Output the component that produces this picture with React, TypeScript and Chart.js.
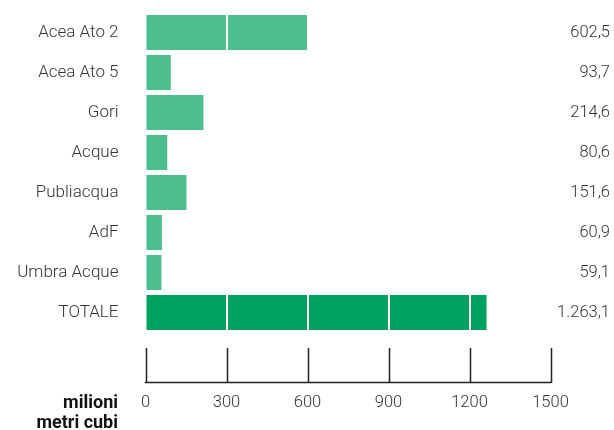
import React, { useEffect, useRef } from "react";
import { Chart, registerables } from "chart.js";

Chart.register(...registerables);

const categories = ["Acea Ato 2", "Acea Ato 5", "Gori", "Acque", "Publiacqua", "AdF", "Umbra Acque", "TOTALE"];
const values = [602.5, 93.7, 214.6, 80.6, 151.6, 60.9, 59.1, 1263.1];
const barColors = ["#4dbe8e", "#4dbe8e", "#4dbe8e", "#4dbe8e", "#4dbe8e", "#4dbe8e", "#4dbe8e", "#00a060"];
const xTicks = [0, 300, 600, 900, 1200, 1500];
const unitLines = ["milioni", "metri cubi"];

const FONT = "Roboto, 'Liberation Sans', sans-serif";

function fmt(n: number): string {
  const [i, d] = n.toFixed(1).split(".");
  const withSep = i.replace(/\B(?=(\d{3})+(?!\d))/g, ".");
  return withSep + "," + d;
}

const overlay = {
  id: "overlay",
  afterDraw(chart: any) {
    const ctx = chart.ctx;
    const x = chart.scales.x;
    const meta = chart.getDatasetMeta(0);
    ctx.save();
    ctx.font = `300 16.5px ${FONT}`;
    ctx.fillStyle = "#333";
    ctx.textAlign = "right";
    ctx.textBaseline = "middle";
    meta.data.forEach((el: any, i: number) => {
      ctx.fillText(fmt(values[i]), 610, el.y);
    });
    ctx.strokeStyle = "#222";
    ctx.lineWidth = 1.5;
    ctx.beginPath();
    const left = x.getPixelForValue(xTicks[0]);
    const right = x.getPixelForValue(xTicks[xTicks.length - 1]);
    ctx.moveTo(left - 0.75, 382.5);
    ctx.lineTo(right + 0.75, 382.5);
    xTicks.forEach((t) => {
      const px = Math.round(x.getPixelForValue(t)) + 0.5;
      ctx.moveTo(px, 348);
      ctx.lineTo(px, 383);
    });
    ctx.stroke();
    ctx.font = `300 16.5px ${FONT}`;
    ctx.fillStyle = "#333";
    ctx.textAlign = "center";
    xTicks.forEach((t) => {
      ctx.fillText(String(t), x.getPixelForValue(t), 403);
    });
    ctx.font = `bold 18px ${FONT}`;
    ctx.fillStyle = "#111";
    ctx.textAlign = "right";
    unitLines.forEach((s, i) => {
      ctx.fillText(s, 118, 403 + i * 20);
    });
    ctx.restore();
  },
};

export default function App() {
  const ref = useRef<HTMLCanvasElement | null>(null);
  useEffect(() => {
    document.body.style.margin = "0";
    const chart = new Chart(ref.current!, {
      type: "bar",
      data: {
        labels: categories,
        datasets: [
          {
            data: values,
            backgroundColor: barColors,
            borderWidth: 0,
            barPercentage: 0.875,
            categoryPercentage: 1,
          },
        ],
      },
      options: {
        indexAxis: "y",
        animation: false,
        responsive: false,
        devicePixelRatio: 1,
        layout: { padding: { top: 12.5, right: 63.5, left: 0, bottom: 97.5 } },
        plugins: { legend: { display: false }, tooltip: { enabled: false } },
        scales: {
          x: {
            min: 0,
            max: 1500,
            ticks: { display: false, stepSize: 300 },
            border: { display: false },
            grid: {
              z: 1,
              drawTicks: false,
              lineWidth: 2,
              color: (c: any) =>
                c.tick && (c.tick.value === 0 || c.tick.value === 1500) ? "rgba(0,0,0,0)" : "#ffffff",
            },
          },
          y: {
            border: { display: false },
            grid: { display: false, drawTicks: false },
            ticks: { color: "#333", font: { family: FONT, size: 17, weight: 300 as any }, padding: 27 },
            afterFit: (s: any) => {
              s.width = 145.5;
              s.paddingTop = 0;
              s.paddingBottom = 0;
            },
          },
        },
      },
      plugins: [overlay],
    });
    return () => chart.destroy();
  }, []);
  return <canvas ref={ref} width={614} height={430} style={{ display: "block" }} />;
}
